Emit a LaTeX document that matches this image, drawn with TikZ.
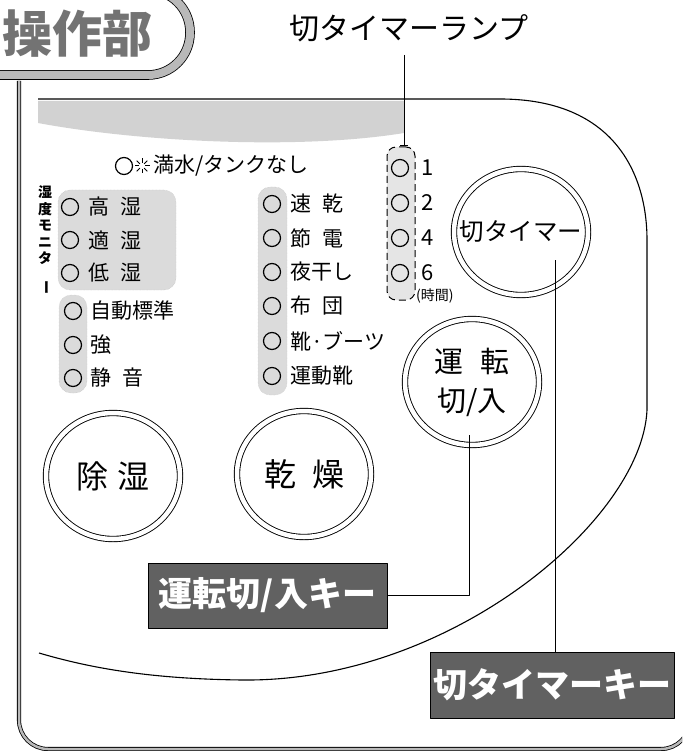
\documentclass[tikz,border=0pt]{standalone}
\usepackage{fontspec}
\usepackage{graphicx}
\newfontfamily\jp{Noto Sans CJK JP}
\usetikzlibrary{shapes.geometric,arrows.meta}
\newcommand{\fsz}[1]{\fontsize{#1}{#1}\selectfont}
\newcommand{\gap}{\hspace{0.55em}}
\tikzset{
  lamp/.style={circle,draw,line width=1.2pt,minimum size=17pt,inner sep=0pt},
  lamplbl/.style={anchor=west,inner sep=0pt,font=\jp\fsz{21}},
  btn/.style={ellipse,draw,line width=0.9pt,double,double distance=4.5pt,minimum width=134pt,minimum height=126pt,inner sep=0pt},
  btnlbl/.style={inner sep=0pt,align=center},
  keybox/.style={draw,line width=1pt,fill=black!62,text=white,minimum height=65pt,inner sep=0pt,font=\jp\bfseries\fsz{34}},
  strip/.style={fill=gray!28,draw=gray!55,densely dotted,rounded corners=12pt}
}

\begin{document}
\begin{tikzpicture}[x=1pt,y=-1pt,line join=round]
\useasboundingbox (0,0) rectangle (682,751);
\clip (0,0) rectangle (682,751);
% title tab and outer frame
\draw[fill=white,line width=0.8pt,double=gray!55,double distance=8pt,rounded corners=42pt] (-60,-10) rectangle (190,75);
\node[font=\jp\bfseries\fsz{50},text=black!55,inner sep=0pt] (title) at (77,34) {操作部};
\draw[line width=0.8pt,double=gray!55,double distance=2.5pt,rounded corners=29pt] (19,81) -- (19,749) -- (690,749) -- (690,600);
% panel outline
\fill[gray!35] (38,101) -- (404,101) -- (404,133) .. controls (300,150) and (140,142) .. (38,123) -- cycle;
\draw[line width=1.1pt] (38,99) -- (500,99) .. controls (615,99) and (647,175) .. (647,240) -- (647,410)
  .. controls (642,520) and (450,682) .. (243,680) .. controls (150,679) and (90,668) .. (39,653);
% tank lamp
\node[lamp] (tank) at (124,166) {};
\coordinate (sun) at (142,166);
\foreach \a in {0,45,...,315}
  \draw[line width=1pt] ([shift={(\a:3)}]sun) -- ([shift={(\a:7.5)}]sun);
\node[lamplbl] (tanklbl) at (153,166) {満水/タンクなし};
% humidity monitor
\node[font=\jp\bfseries\fontsize{14}{16.5}\selectfont,align=center,inner sep=0pt] (monitor) at (45,240) {湿\\度\\モ\\ニ\\タ\\\rotatebox{-90}{ー}};
\draw[strip] (58,190) rectangle (176,290);
\draw[strip] (59,295) rectangle (87,393);
\node[lamp] (high) at (70,207) {};
\node[lamplbl] (hight) at (88,207) {高\gap 湿};
\node[lamp] (good) at (70,240) {};
\node[lamplbl] (goodt) at (88,240) {適\gap 湿};
\node[lamp] (low) at (70,273) {};
\node[lamplbl] (lowt) at (88,273) {低\gap 湿};
\node[lamp] (auto) at (73,311) {};
\node[lamplbl] (autot) at (90,311) {自動標準};
\node[lamp] (strong) at (73,345) {};
\node[lamplbl] (strongt) at (90,345) {強};
\node[lamp] (quiet) at (73,378) {};
\node[lamplbl] (quiett) at (90,378) {静\gap 音};
% dry modes
\draw[strip] (258,187) rectangle (287,395);
\node[lamp] (fast) at (272,204) {};
\node[lamplbl] (fastt) at (290,204) {速\gap 乾};
\node[lamp] (eco) at (272,238) {};
\node[lamplbl] (ecot) at (290,238) {節\gap 電};
\node[lamp] (night) at (272,272) {};
\node[lamplbl] (nightt) at (290,272) {夜干し};
\node[lamp] (futon) at (272,306) {};
\node[lamplbl] (futont) at (290,306) {布\gap 団};
\node[lamp] (boots) at (272,341) {};
\node[lamplbl] (bootst) at (290,341) {靴·ブーツ};
\node[lamp] (shoes) at (272,376) {};
\node[lamplbl] (shoest) at (290,376) {運動靴};
% timer lamps
\node[font=\jp\fsz{30},inner sep=0pt] (lamptitle) at (409,28) {切タイマーランプ};
\node[draw,dashed,dash pattern=on 7pt off 4pt,line width=1pt,fill=gray!20,rounded corners=9pt,minimum width=28pt,minimum height=153pt,inner sep=0pt] (timgrp) at (401,223.5) {};
\node[lamp] (t1) at (400,168) {};
\node[lamplbl,font=\jp\fsz{22}] (t1t) at (421,168) {1};
\node[lamp] (t2) at (400,203) {};
\node[lamplbl,font=\jp\fsz{22}] (t2t) at (421,203) {2};
\node[lamp] (t4) at (400,238) {};
\node[lamplbl,font=\jp\fsz{22}] (t4t) at (421,238) {4};
\node[lamp] (t6) at (400,273) {};
\node[lamplbl,font=\jp\fsz{22}] (t6t) at (421,273) {6};
\node[lamplbl,font=\jp\fsz{14}] (hours) at (416,296) {(時間)};
\coordinate (lamptap) at (404,55);
\draw[line width=1pt,-{Bar[width=8pt,line width=1pt]}] (lamptap) -- (lamptap |- timgrp.north);
% buttons
\node[btn] (timer) at (521,232) {};
\node[btnlbl,font=\jp\fsz{24.5}] (timertxt) at (timer) {切タイマー};
\node[btn] (run) at (472,382) {};
\node[btnlbl,font=\jp\fontsize{29}{39}\selectfont] (runtxt) at (run) {運\hspace{0.6em}転\\切/入};
\node[btn] (dehum) at (113,476) {};
\node[btnlbl,font=\jp\fsz{32}] (dehumtxt) at (dehum) {除\hspace{0.3em}湿};
\node[btn] (dry) at (304,474) {};
\node[btnlbl,font=\jp\fsz{32}] (drytxt) at (dry) {乾\hspace{0.5em}燥};
% key labels
\node[keybox,minimum width=239pt] (runkey) at (267.5,595.5) {運転切/入キー};
\node[keybox,minimum width=244pt,minimum height=66pt] (timkey) at (552,685) {切タイマーキー};
\coordinate (runtap) at (469,435);
\draw[line width=1pt] (runtap) |- (runkey.east);
\coordinate (timtap) at (555,260);
\draw[line width=1pt] (timtap) -- (timtap |- timkey.north);
\end{tikzpicture}
\end{document}
